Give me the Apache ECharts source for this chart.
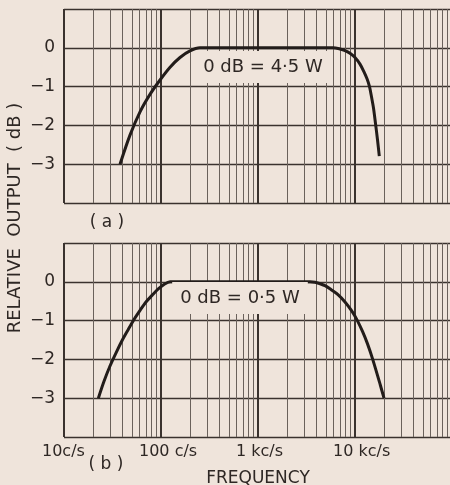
<!DOCTYPE html>
<html><head><meta charset="utf-8">
<script src="https://cdn.jsdelivr.net/npm/echarts@6/dist/echarts.min.js"></script>
<style>html,body{margin:0;padding:0;background:#efe4db;}#c{width:450px;height:485px;}</style>
</head><body><div id="c"></div>
<script>
// Panel (a): 0 dB = 4.5 W
const freqA = [37.8, 47.9, 60.8, 77, 97.7, 124, 157, 199, 252, 1000, 5930, 7000, 7890, 8880, 10000, 11260, 12380, 13300, 14110, 14790, 15510, 16270, 17060, 17800];
const dbA   = [-3, -2.25, -1.65, -1.2, -0.83, -0.5, -0.25, -0.08, 0, 0, 0, -0.03, -0.07, -0.14, -0.25, -0.42, -0.62, -0.8, -1.0, -1.26, -1.55, -1.95, -2.37, -2.79];
// Panel (b): 0 dB = 0.5 W
const freqB = [22.6, 25.8, 29.8, 34.4, 39.6, 45.7, 52.7, 60.8, 70, 80.8, 93.1, 107.4, 124, 1000, 3437, 3868, 4357, 4906, 5657, 6677, 7886, 9248, 10490, 11950, 13460, 15150, 18235, 19910];
const dbB   = [-3, -2.57, -2.17, -1.83, -1.52, -1.24, -0.97, -0.735, -0.52, -0.35, -0.19, -0.07, 0, 0, 0, -0.01, -0.05, -0.1, -0.2, -0.33, -0.52, -0.75, -0.98, -1.28, -1.6, -1.98, -2.66, -3];
// axis ticks
const xTickValues = [10, 100, 1000, 10000, 100000];
const xTickLabels = ['10c/s', '100 c/s', '1 kc/s', '10 kc/s', ''];
const yTickValues = [1, 0, -1, -2, -3, -4];
const yTickLabels = ['', '0', '\u22121', '\u22122', '\u22123', ''];
const minorFreqs = [20,30,40,50,60,70,80,90,200,300,400,500,600,700,800,900,
  2000,3000,4000,5000,6000,7000,8000,9000,20000,30000,40000,50000,60000,70000,80000,90000];
const labelA = '0 dB = 4\u00B75 W';
const labelB = '0 dB = 0\u00B75 W';

const FONT = 'DejaVu Sans';
const INK = '#2e2724';
const GRIDC = '#6a615b';

function xAxisDef(idx, showLabels) {
  return {
    type: 'log', logBase: 10, min: 10, max: 100000, gridIndex: idx,
    axisLine: {show: false}, axisTick: {show: false},
    splitLine: {show: true, lineStyle: {color: '#3a322e', width: 2}},
    axisLabel: {
      show: showLabels, fontFamily: FONT, fontSize: 16, color: INK, margin: 7,
      align: 'left', padding: [0, 0, 0, -22],
      formatter: v => { const i = xTickValues.indexOf(Math.round(v)); return i >= 0 ? xTickLabels[i] : ''; }
    },
    name: showLabels ? 'FREQUENCY' : '', nameLocation: 'middle', nameGap: 33,
    nameTextStyle: {fontFamily: FONT, fontSize: 17, color: INK}
  };
}
function yAxisDef(idx) {
  return {
    type: 'value', min: -4, max: 1, interval: 1, gridIndex: idx,
    axisLine: {show: false}, axisTick: {show: false},
    splitLine: {show: true, lineStyle: {color: '#3a322e', width: 1.3}},
    axisLabel: {
      fontFamily: FONT, fontSize: 17, color: INK, margin: 9,
      formatter: v => { const i = yTickValues.indexOf(v); return i >= 0 ? yTickLabels[i] : ''; }
    }
  };
}
function minorSeries(idx) {
  return {
    type: 'line', xAxisIndex: idx, yAxisIndex: idx, data: [], silent: true, z: 1,
    markLine: {
      silent: true, symbol: ['none', 'none'], animation: false,
      label: {show: false},
      lineStyle: {color: GRIDC, width: 1, type: 'solid'},
      data: minorFreqs.map(f => ({xAxis: f}))
    }
  };
}
function curve(idx, fr, db) {
  return {
    type: 'line', xAxisIndex: idx, yAxisIndex: idx, z: 5,
    data: fr.map((f, i) => [f, db[i]]),
    smooth: 0.3, showSymbol: false, symbol: 'none',
    lineStyle: {color: '#221c1a', width: 3}, animation: false
  };
}

const chart = echarts.init(document.getElementById('c'), null, {renderer: 'canvas'});
chart.setOption({
  backgroundColor: '#efe4db',
  animation: false,
  grid: [
    {left: 64, top: 9, right: -2, height: 194, outerBoundsMode: 'none', containLabel: false},
    {left: 64, top: 243, right: -2, height: 194, outerBoundsMode: 'none', containLabel: false}
  ],
  xAxis: [xAxisDef(0, false), xAxisDef(1, true)],
  yAxis: [yAxisDef(0), yAxisDef(1)],
  series: [minorSeries(0), minorSeries(1), curve(0, freqA, dbA), curve(1, freqB, dbB)],
  graphic: [
    {type: 'text', x: 263, y: 67, z: 10, style: {text: labelA, font: '18px "DejaVu Sans"', fill: INK,
      align: 'center', verticalAlign: 'middle', backgroundColor: '#efe4db', padding: [7, 8, 7, 8]}},
    {type: 'text', x: 240, y: 298, z: 10, style: {text: labelB, font: '18px "DejaVu Sans"', fill: INK,
      align: 'center', verticalAlign: 'middle', backgroundColor: '#efe4db', padding: [7, 8, 7, 8]}},
    {type: 'text', x: 107, y: 223, style: {text: '( a )', font: '17px "DejaVu Sans"', fill: INK, align: 'center', verticalAlign: 'middle'}},
    {type: 'text', x: 106, y: 465, style: {text: '( b )', font: '17px "DejaVu Sans"', fill: INK, align: 'center', verticalAlign: 'middle'}},
    {type: 'text', x: 15, y: 218, rotation: Math.PI / 2, style: {text: 'RELATIVE  OUTPUT  ( dB )', font: '18px "DejaVu Sans"', fill: INK, align: 'center', verticalAlign: 'middle'}}
  ]
});
</script></body></html>
